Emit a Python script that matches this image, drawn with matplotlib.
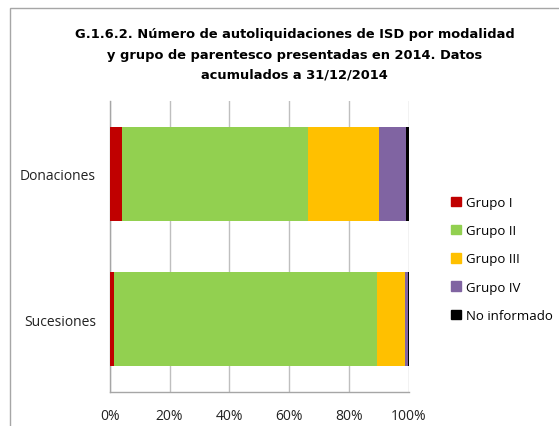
import matplotlib
matplotlib.use("Agg")
import matplotlib.pyplot as plt
from matplotlib.patches import Rectangle
import numpy as np

categories = ["Donaciones", "Sucesiones"]
series_names = ["Grupo I", "Grupo II", "Grupo III", "Grupo IV", "No informado"]
grupo_i = [4.1, 1.4]
grupo_ii = [62.1, 87.8]
grupo_iii = [23.8, 9.3]
grupo_iv = [9.1, 1.3]
no_informado = [0.9, 0.2]
colors = ["#C00000", "#92D050", "#FFC000", "#8064A2", "#000000"]
xticklabels = ["0%", "20%", "40%", "60%", "80%", "100%"]

series = [grupo_i, grupo_ii, grupo_iii, grupo_iv, no_informado]

W, H = 559, 427
fig = plt.figure(figsize=(W / 100, H / 100), dpi=100)
ax = fig.add_axes([109.7 / W, 1 - 392.7 / H, (409 - 109.7) / W, (392.7 - 102) / H])

y = np.arange(len(categories))
left = np.zeros(len(categories))
for name, vals, c in zip(series_names, series, colors):
    ax.barh(y, vals, left=left, height=0.646, color=c, label=name, zorder=3)
    left += np.array(vals)

ax.set_ylim(len(categories) - 0.5, -0.5)
ax.set_xlim(0, 100)
ax.set_xticks(np.linspace(0, 100, 6))
ax.set_xticklabels(xticklabels)
ax.set_yticks(y)
ax.set_yticklabels(categories)
ax.tick_params(axis="both", length=0, labelsize=10, colors="#222222")
ax.tick_params(axis="x", pad=12)
ax.tick_params(axis="y", pad=10)
for lab in ax.get_xticklabels() + ax.get_yticklabels():
    lab.set_family(["Open Sans", "DejaVu Sans"])
ax.xaxis.grid(True, color="#BFBFBF", linewidth=1, zorder=0)
for s in ["top", "right"]:
    ax.spines[s].set_visible(False)
for s in ["left", "bottom"]:
    ax.spines[s].set_color("#A6A6A6")
    ax.spines[s].set_linewidth(1)

fig.text(0.5 + 15 / W, 1 - 55 / H,
         "G.1.6.2. Número de autoliquidaciones de ISD por modalidad\n"
         "y grupo de parentesco presentadas en 2014. Datos\n"
         "acumulados a 31/12/2014",
         ha="center", va="center", fontsize=9.4, fontweight="bold",
         family=["DejaVu Sans"], linespacing=1.75)

handles = [Rectangle((0, 0), 1, 1, color=c) for c in colors]
leg = fig.legend(handles, series_names, loc="center left",
                 bbox_to_anchor=(446 / W, 1 - 260 / H), frameon=False,
                 prop={"family": ["Open Sans", "DejaVu Sans"], "size": 9.5},
                 handlelength=0.7, handleheight=0.7, handletextpad=0.4,
                 labelspacing=1.15, borderaxespad=0)

fig.patches.append(Rectangle((10 / W, -0.1), 1.2, 1 - 9 / H + 0.1,
                             transform=fig.transFigure, fill=False,
                             edgecolor="#A6A6A6", linewidth=1))

fig.savefig("out.png", dpi=100)
